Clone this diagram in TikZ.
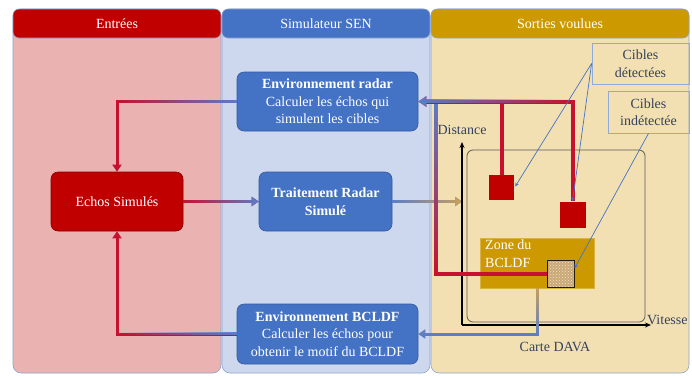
\documentclass[tikz,border=0pt]{standalone}
\usepackage{fontspec}
\setmainfont{Liberation Serif}
\usetikzlibrary{arrows.meta,fadings,patterns,calc}
\definecolor{cred}{HTML}{C00000}
\definecolor{cblue}{HTML}{4472C4}
\definecolor{cgold}{HTML}{CC9900}
\definecolor{bodyR}{HTML}{EBB2B2}
\definecolor{bodyB}{HTML}{CDD8EE}
\definecolor{bodyG}{HTML}{F2E0B2}
\definecolor{colborder}{HTML}{8EA4CC}
\definecolor{lred}{HTML}{C8102E}
\definecolor{lblue}{HTML}{5B7DC8}
\definecolor{ltan}{HTML}{C9A05C}
\definecolor{txtg}{HTML}{34425E}
\definecolor{callb}{HTML}{8EAADB}
\definecolor{texfill}{HTML}{C9A878}
\definecolor{texline}{HTML}{F3E3C3}
\tikzfading[name=opR, left color=transparent!100, right color=transparent!0]
\tikzfading[name=opL, left color=transparent!0, middle color=transparent!85, right color=transparent!100]
\tikzfading[name=opT, top color=transparent!0, middle color=transparent!60, bottom color=transparent!100]
\tikzfading[name=opTz, top color=transparent!0, bottom color=transparent!100]
\tikzset{
  colbody/.style={draw=colborder, line width=0.6pt, rounded corners=8pt},
  hdr/.style={rounded corners=6pt, text=white, minimum width=208pt, minimum height=29pt, inner sep=0pt, draw=colborder, line width=0.6pt},
  box/.style={rounded corners=7pt, text=white, align=center, inner sep=1pt, draw=#1, line width=0.6pt},
  conn/.style={line width=3pt, -{Triangle[width=9pt,length=7pt]}},
  tconn/.style={line width=4pt},
  lbl/.style={text=txtg, inner sep=1pt},
  callbox/.style={draw=callb, line width=0.8pt, text=txtg, align=center, inner sep=0pt},
  pointer/.style={draw=cblue, line width=0.7pt, -{Stealth[length=4pt,width=3.5pt]}},
  target/.style={fill=cred, inner sep=0pt, minimum size=#1},
}
\begin{document}
\begin{tikzpicture}[x=1pt,y=-1pt, font=\fontsize{14}{17.5}\selectfont]
\useasboundingbox (0,0) rectangle (692,375);
% columns
\draw[colbody, fill=bodyR] (13,9) rectangle (221,373);
\draw[colbody, fill=bodyB] (222,9) rectangle (430,373);
\draw[colbody, fill=bodyG] (431,9) rectangle (689,373);
\node[hdr, fill=cred] (h1) at (117,23.5) {Entrées};
\node[hdr, fill=cblue] (h2) at (326,23.5) {Simulateur SEN};
\node[hdr, fill=cgold, minimum width=258pt] (h3) at (560,23.5) {Sorties voulues};
% process boxes
\node[box=cblue!80!black, fill=cblue, minimum width=181pt, minimum height=59pt] (envr) at (327.5,101.5)
  {\textbf{Environnement radar}\\Calculer les échos qui\\simulent les cibles};
\node[box=cred!70!black, fill=cred, minimum width=132pt, minimum height=59pt] (echos) at (117,201.5) {Echos Simulés};
\node[box=cblue!80!black, fill=cblue, minimum width=133pt, minimum height=59pt] (trait) at (325.5,201.5)
  {\textbf{Traitement Radar}\\\textbf{Simulé}};
\node[box=cblue!80!black, fill=cblue, minimum width=181pt, minimum height=60pt] (envb) at (327.5,334)
  {\textbf{Environnement BCLDF}\\Calculer les échos pour\\obtenir le motif du BCLDF};
% DAVA map
\coordinate (ax) at (462,325);
\coordinate (axY) at (462,142);
\coordinate (axX) at (651,325);
\draw[black!65, line width=0.8pt, rounded corners=6pt] (467,150) rectangle (645,322);
\node[target=25pt] (t1) at (501.5,187.5) {};
\node[target=26pt] (t2) at (572.5,214.5) {};
\node[fill=cgold, draw=cgold!75!white, line width=0.8pt, minimum width=114pt, minimum height=50pt, inner sep=0pt] (zone) at (537,263) {};
\node[text=white, align=left, anchor=north west, inner sep=0pt] (ztxt) at (485,240) {Zone du\\BCLDF};
% connector 3: traitement -> map
\draw[lblue, conn] (trait.east) -- (trait.east -| ax);
\draw[ltan, conn, path fading=opR] ($(trait.east)+(0,-6)$) ($(trait.east)+(0,6)$) (trait.east) -- (trait.east -| ax);
% axes
\draw[line width=1.8pt, -{Stealth[length=6pt,width=5pt]}] (ax) -- (axY);
\draw[line width=1.8pt, -{Stealth[length=6pt,width=5pt]}] (ax) -- (axX);
\node[lbl] (dist) at (462,130) {Distance};
\node[lbl, anchor=west] (vit) at (646,320) {Vitesse};
\node[lbl] (carte) at (555,347) {Carte DAVA};
% texture square
\node[draw=black!80!brown, line width=0.8pt, minimum size=27pt, inner sep=0pt,
  preaction={fill=texfill}, pattern=crosshatch dots, pattern color=texline] (tex) at (560.5,273.5) {};
% red detection lines back to envr
\coordinate (jv) at ($(envr.east)+(18,0)$);
\draw[lred, tconn] (t1.north) -- (t1.north |- envr.east);
\draw[lred, tconn] (tex.west) -| (jv);
\draw[lblue, tconn, path fading=opT] (tex.west) -| (jv);
\draw[lred, tconn, -{Triangle[width=10pt,length=8pt]}] (t2.north) |- (envr.east);
\draw[lblue, tconn, -{Triangle[width=10pt,length=8pt]}, path fading=opL] (t2.north) |- (envr.east);
% connector 1: envr -> echos
\draw[lred, conn] (envr.west) -| (echos.north);
\draw[lblue, conn, path fading=opR] (envr.west) -| (echos.north);
% connector 2: echos -> trait
\draw[lred, conn] (echos.east) -- (trait.west);
\draw[lblue, conn, path fading=opR] ($(echos.east)+(0,-6)$) ($(echos.east)+(0,6)$) (echos.east) -- (trait.west);
% connector 5: zone -> envb
\draw[lblue, conn] (zone.south) |- (envb.east);
\draw[ltan, conn, path fading=opTz] (zone.south) |- (envb.east);
% connector 6: envb -> echos
\draw[lred, conn] (envb.west) -| (echos.south);
\draw[lblue, conn, path fading=opR] (envb.west) -| (echos.south);
% callouts
\node[callbox, minimum width=97pt, minimum height=41pt] (cd) at (640.5,63.5) {Cibles\\détectées};
\node[callbox, minimum width=81pt, minimum height=42pt] (ci) at (648.5,112) {Cibles\\indétectée};
\draw[pointer] (cd.west) -- ($(t1.east)+(1,-1)$);
\draw[pointer] (cd.west) -- (t2.north);
\draw[pointer] (ci.south) -- ($(tex.east)+(0,-5)$);
\end{tikzpicture}
\end{document}
